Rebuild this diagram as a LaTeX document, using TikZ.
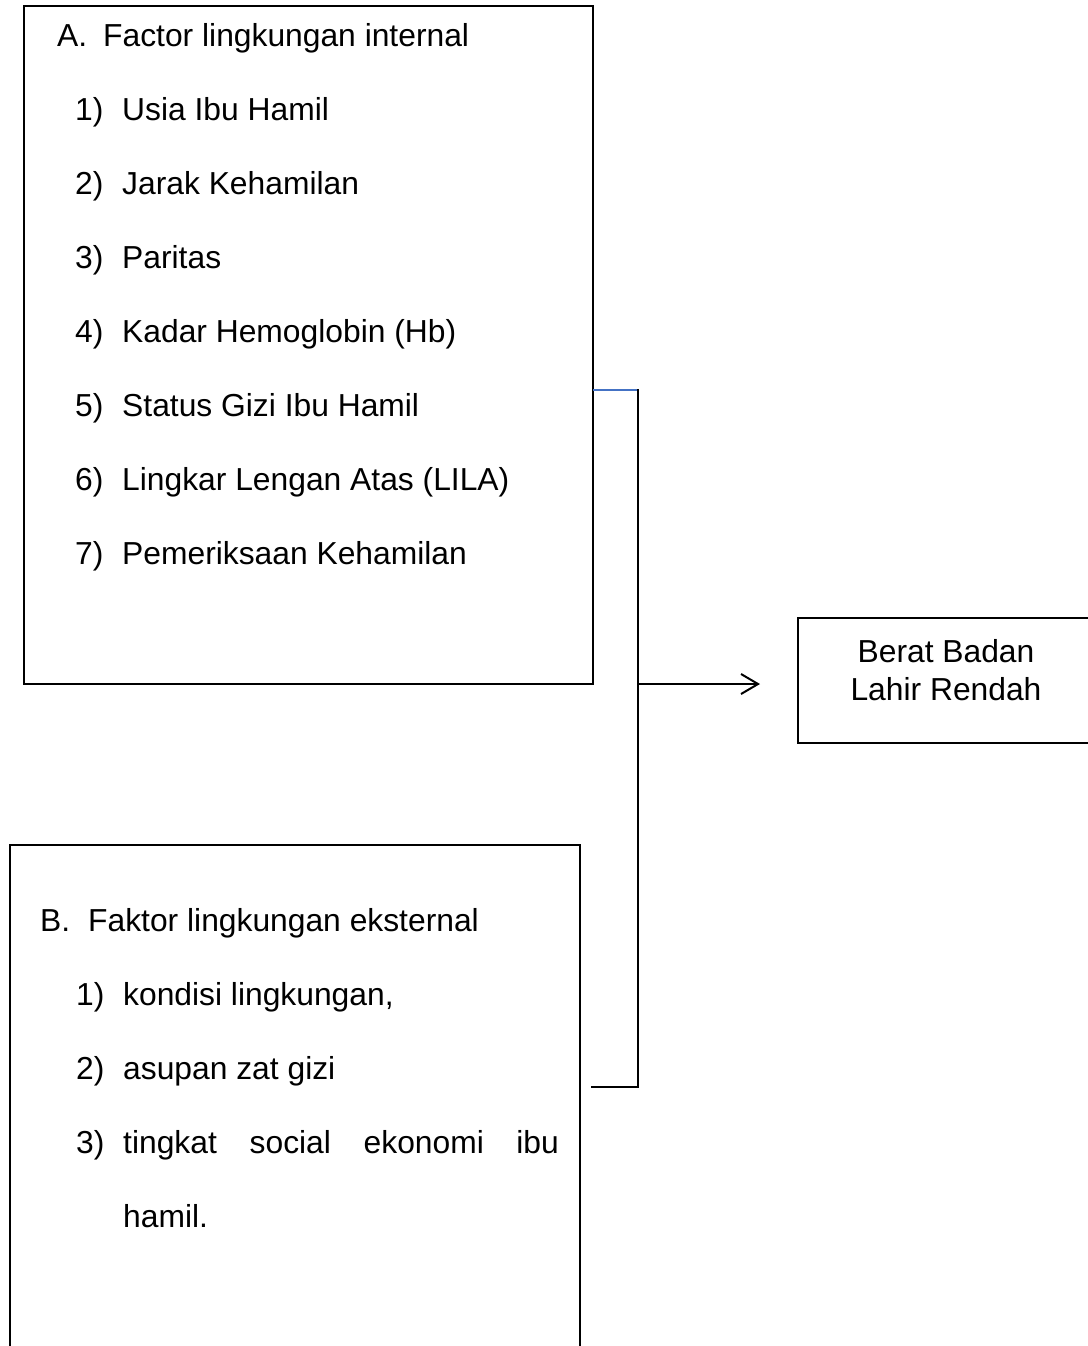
\documentclass[tikz,border=0pt]{standalone}
\usepackage{fontspec}
\setmainfont{Liberation Sans}
\usetikzlibrary{arrows.meta,calc}
\definecolor{wordblue}{HTML}{4472C4}
\begin{document}
\begin{tikzpicture}[x=1pt,y=-1pt,
  txt/.style={anchor=base west,inner sep=0pt,font=\fontsize{31.8}{37}\selectfont},
  ctxt/.style={anchor=base,inner sep=0pt,font=\fontsize{31.8}{37}\selectfont},
  boxline/.style={draw,line width=1.2pt},
  frame/.style={inner sep=0pt,outer sep=0pt,anchor=north west},
  conn/.style={line width=2pt},
  arr/.style={conn,-{Straight Barb[length=17pt,width=20pt,line width=2pt]}},
]
\useasboundingbox (0,0) rectangle (1087,1346);
% Box A
\node[frame,boxline,minimum width=569pt,minimum height=678pt] (A) at (24,6) {};
\node[txt] (Ah) at (57,47) {A.};
\node[txt] (At) at (103,47) {Factor lingkungan internal};
\node[txt] (a1n) at (75,120) {1)};
\node[txt] (a1) at (122,120) {Usia Ibu Hamil};
\node[txt] (a2n) at (75,194) {2)};
\node[txt] (a2) at (122,194) {Jarak Kehamilan};
\node[txt] (a3n) at (75,268) {3)};
\node[txt] (a3) at (122,268) {Paritas};
\node[txt] (a4n) at (75,342) {4)};
\node[txt] (a4) at (122,342) {Kadar Hemoglobin (Hb)};
\node[txt] (a5n) at (75,416) {5)};
\node[txt] (a5) at (122,416) {Status Gizi Ibu Hamil};
\node[txt] (a6n) at (75,490) {6)};
\node[txt] (a6) at (122,490) {Lingkar Lengan Atas (LILA)};
\node[txt] (a7n) at (75,564) {7)};
\node[txt] (a7) at (122,564) {Pemeriksaan Kehamilan};
% Box B (open at the bottom, runs off the page)
\node[frame,minimum width=570pt,minimum height=520pt] (B) at (10,845) {};
\draw[boxline] (B.south west) -- (B.north west) -- (B.north east) -- (B.south east);
\node[txt] (Bh) at (40,931) {B.};
\node[txt] (Bt) at (88,931) {Faktor lingkungan eksternal};
\node[txt] (b1n) at (76,1005) {1)};
\node[txt] (b1) at (123,1005) {kondisi lingkungan,};
\node[txt] (b2n) at (76,1079) {2)};
\node[txt] (b2) at (123,1079) {asupan zat gizi};
\node[txt] (b3n) at (76,1153) {3)};
\node[txt] (b3a) at (123,1153) {tingkat};
\node[txt] (b3b) at (249.5,1153) {social};
\node[txt] (b3c) at (363.5,1153) {ekonomi};
\node[txt,anchor=base east] (b3d) at (559,1153) {ibu};
\node[txt] (b3e) at (123,1227) {hamil.};
% Result box (runs off the right edge)
\node[frame,minimum width=300pt,minimum height=125pt] (R) at (798,618) {};
\draw[boxline] (R.north east) -- (R.north west) -- (R.south west) -- (R.south east);
\node[ctxt] (R1) at (946,662) {Berat Badan};
\node[ctxt] (R2) at (946,700) {Lahir Rendah};
% Connectors
\coordinate (j1) at (638,390);
\coordinate (j2) at (638,1087);
\coordinate (jm) at (638,684);
\coordinate (bEnd) at (592,1087);
\draw[conn,wordblue] (A.east |- j1) -- (j1);
\draw[conn,line cap=rect] (j1) -- (j2) -- (bEnd);
\draw[arr,shorten >=38pt] (jm) -- (R.west |- jm);
\end{tikzpicture}
\end{document}
